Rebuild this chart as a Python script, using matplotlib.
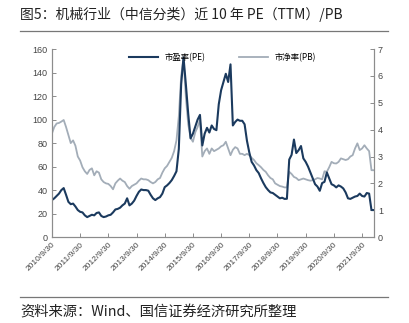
import numpy as np
import matplotlib
matplotlib.use("Agg")
import matplotlib.pyplot as plt

plt.rcParams['font.family'] = ['Noto Sans CJK SC', 'DejaVu Sans']

# monthly values, 2010/9 .. 2022/2
pe = [31.5, 33, 35, 37, 40, 41.7, 36, 30, 28, 28.5, 26, 23, 21.5, 21, 18.5, 17,
      18, 19, 18.5, 20.5, 21, 18, 17, 17.5, 18.5, 19, 21, 23.5, 24, 25, 27, 28.5,
      33, 27, 28.5, 31, 35, 38.5, 40.5, 40, 40, 39.5, 36, 33, 31.5, 33, 34, 37,
      42.5, 44, 46, 48.5, 52, 56, 75, 130, 153, 130, 105, 84, 88, 94, 100, 104,
      78, 88, 93, 89, 95, 92, 91, 113, 125, 132, 139, 132, 147, 95, 98, 100, 99,
      99, 96, 82, 72, 64, 61, 57, 54.5, 50, 46, 42.5, 40, 38, 37.5, 36, 34.5, 33,
      33.5, 32.5, 32.6, 66, 70, 83, 71.5, 74, 77.5, 67, 64, 60, 55, 50, 45, 43,
      39.4, 46, 47, 55, 50, 45, 44, 42.3, 44, 43, 41.4, 38, 33, 32.5, 33.5, 34.5,
      35, 37, 35, 34.5, 37.5, 37, 23, 23]
pb = [3.86, 4.1, 4.23, 4.25, 4.3, 4.36, 4.1, 3.8, 3.5, 3.6, 3.4, 3.0, 2.85, 2.6,
      2.45, 2.35, 2.5, 2.56, 2.3, 2.45, 2.4, 2.15, 2.05, 2.0, 1.98, 1.9, 1.78,
      2.0, 2.1, 2.18, 2.1, 2.05, 1.9, 1.8, 1.9, 1.95, 2.0, 2.1, 2.18, 2.15, 2.15,
      2.12, 2.05, 2.0, 2.05, 2.15, 2.2, 2.4, 2.56, 2.65, 2.8, 2.95, 3.2, 3.6, 4.5,
      6.0, 6.65, 5.2, 4.2, 3.7, 3.55, 3.9, 4.1, 4.36, 3.0, 3.2, 3.3, 3.1, 3.3,
      3.2, 3.25, 3.3, 3.38, 3.42, 3.55, 3.3, 3.05, 3.25, 3.35, 3.3, 3.1, 3.1,
      3.05, 3.1, 3.05, 2.95, 2.87, 2.75, 2.68, 2.6, 2.5, 2.43, 2.3, 2.2, 2.15,
      2.0, 1.95, 1.9, 1.88, 1.85, 1.85, 2.43, 2.35, 2.24, 2.2, 2.12, 2.15, 2.18,
      2.15, 2.12, 2.1, 2.12, 2.15, 2.2, 2.18, 2.15, 2.45, 2.43, 2.6, 2.8, 2.75,
      2.74, 2.8, 2.93, 2.9, 2.87, 2.9, 3.0, 3.05, 3.3, 3.49, 3.24, 3.3, 3.42,
      3.3, 3.2, 2.49, 2.49]
tick_labels = ['2010/9/30', '2011/9/30', '2012/9/30', '2013/9/30', '2014/9/30',
               '2015/9/30', '2016/9/30', '2017/9/30', '2018/9/30', '2019/9/30',
               '2020/9/30', '2021/9/30']

x = np.arange(len(pe))
pe_color = '#1b3a5e'
pb_color = '#a3adb8'
spine_color = '#8c8c8c'

fig = plt.figure(figsize=(4.09, 3.23), dpi=100)
ax = fig.add_axes([0.127, 0.266, 0.787, 0.582])
ax2 = ax.twinx()

ax2.plot(x, pb, color=pb_color, lw=1.3, label='市净率(PB)')
ax.plot(x, pe, color=pe_color, lw=1.5, label='市盈率(PE)')
ax.set_zorder(ax2.get_zorder() + 1)
ax.patch.set_visible(False)

ax.set_xlim(0, len(pe) - 1)
ax.set_ylim(0, 160)
ax.set_yticks(range(0, 161, 20))
ax2.set_ylim(0, 7)
ax2.set_yticks(range(0, 8))
ax.set_xticks(x[::12][:len(tick_labels)])
ax.set_xticklabels(tick_labels, rotation=45, ha='right', rotation_mode='anchor')

for a in (ax, ax2):
    a.spines['top'].set_visible(False)
    for s in ('left', 'right', 'bottom'):
        a.spines[s].set_color(spine_color)
        a.spines[s].set_linewidth(0.8)
    a.tick_params(direction='in', length=3, width=0.7, color=spine_color,
                  labelsize=6.5, labelcolor='#444444', pad=3)
    for lab in a.get_xticklabels() + a.get_yticklabels():
        lab.set_family(['Liberation Sans', 'DejaVu Sans'])
for lab in ax.get_xticklabels():
    lab.set_fontsize(6)

h1, l1 = ax.get_legend_handles_labels()
h2, l2 = ax2.get_legend_handles_labels()
ax.legend(h1 + h2, l1 + l2, ncol=2, frameon=False, fontsize=6,
          loc='upper center', bbox_to_anchor=(0.53, 1.02),
          handlelength=3.5, columnspacing=4)

fig.text(0.049, 0.955, '图5：机械行业（中信分类）近 10 年 PE（TTM）/PB',
         fontsize=10, color='#222222', va='center')
fig.add_artist(plt.Line2D([0.049, 0.949], [0.903, 0.903],
                          color='#777777', lw=0.9))
fig.add_artist(plt.Line2D([0.049, 0.949], [0.079, 0.079],
                          color='#777777', lw=0.9))
fig.text(0.049, 0.033, '资料来源：Wind、国信证券经济研究所整理',
         fontsize=10.3, color='#222222', va='center')

fig.savefig('out.png', dpi=100)
